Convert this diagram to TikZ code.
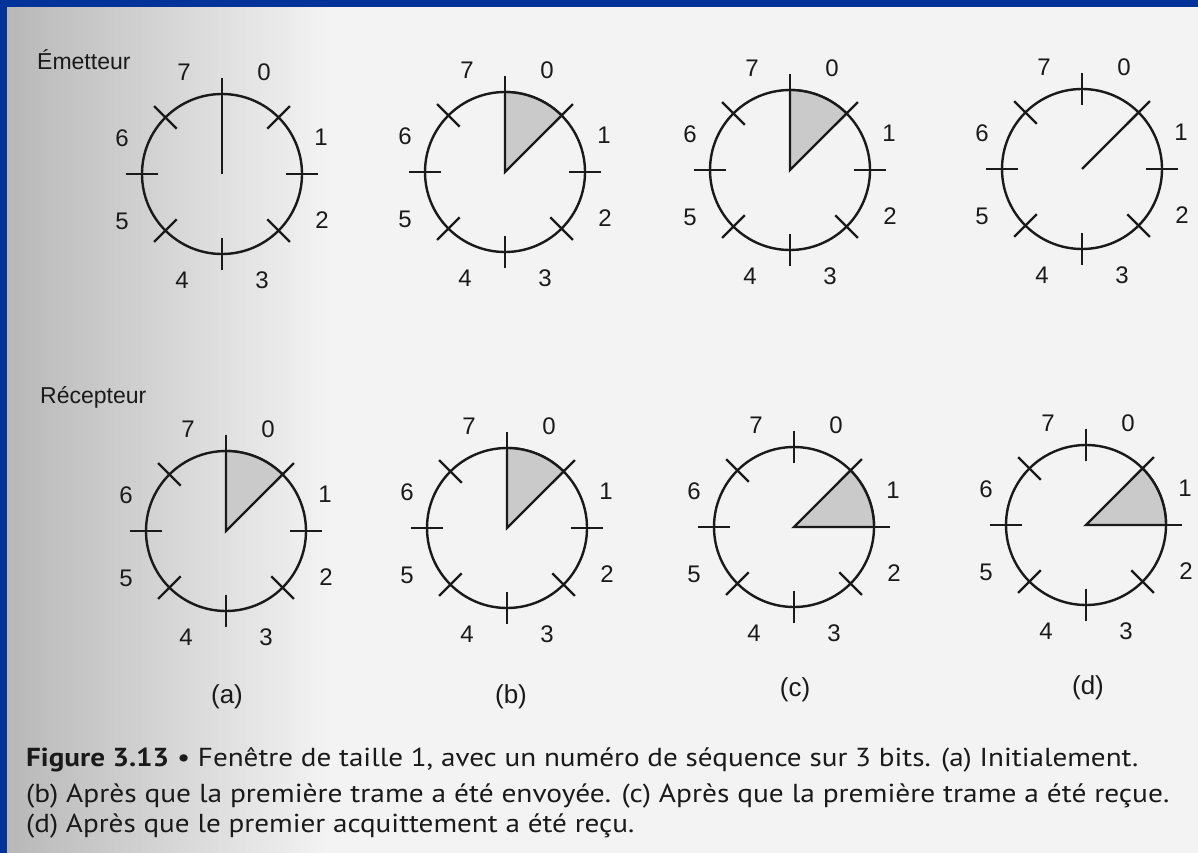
\documentclass[tikz,border=0pt]{standalone}
\usepackage{fontspec}
\setmainfont{Liberation Sans}
\newfontfamily\capfont{PT Sans}
\usepackage{graphicx}
\definecolor{scanblue}{HTML}{003399}
\definecolor{paper}{HTML}{F3F3F3}
\definecolor{shadowgray}{HTML}{B8B8B8}
\definecolor{wedgegray}{HTML}{CACACA}
\definecolor{ink}{HTML}{1A1A1A}
\tikzset{
  ring/.style={line width=2.4pt, draw=ink},
  numlab/.style={font=\fontsize{24}{24}\selectfont, inner sep=0pt, text=ink},
  sublab/.style={font=\fontsize{26}{26}\selectfont, inner sep=0pt, text=ink},
  sidelab/.style={font=\fontsize{23}{23}\selectfont, inner sep=0pt, anchor=base west, text=ink},
  caplab/.style={font=\capfont\fontsize{26}{26}\selectfont, inner sep=0pt, anchor=base west, text=ink},
}
\newcommand\clockface[2]{%
  \coordinate (#1) at #2;
  \draw[ring] (#1) circle[radius=80];
  \foreach \a in {0,45,...,315}{\draw[ring] ([shift={(\a:64)}]#1) -- ([shift={(\a:96)}]#1);}
  \foreach \k/\dx/\dy in {7/-38/-102,0/42/-102,1/99/-37,2/100/46,3/40/106,4/-40/106,5/-100/47,6/-100/-36}{%
    \node[numlab] (#1-\k) at ([shift={(\dx,\dy)}]#1) {\k};}
}
% wedge between 0 and 1 (visual 45..90 deg)
\newcommand\wedgetop[1]{%
  \begin{scope}[shift={(#1)}]
    \filldraw[ring, fill=wedgegray] (0,0) -- plot[domain=-90:-45, samples=25] (\x:80) -- cycle;
  \end{scope}}
% wedge between 1 and 2 (visual 0..45 deg)
\newcommand\wedgeright[1]{%
  \begin{scope}[shift={(#1)}]
    \filldraw[ring, fill=wedgegray] (0,0) -- plot[domain=-45:0, samples=25] (\x:80) -- cycle;
  \end{scope}}
\begin{document}
\begin{tikzpicture}[x=1pt,y=-1pt]
\useasboundingbox (0,0) rectangle (1198,853);
\fill[paper] (0,0) rectangle (1198,853);
\shade[left color=shadowgray, right color=paper] (7,0) rectangle (330,853);
\fill[scanblue] (0,0) rectangle (1198,7);
\fill[scanblue] (0,0) rectangle (7,853);

% sender row
\node[sidelab] (emet) at (37,70) {Émetteur};
\clockface{ea}{(222,174)}
\clockface{eb}{(505,172)}
\clockface{ec}{(790,170)}
\clockface{ed}{(1082,169)}
\draw[ring] (ea) -- ([shift={(0,-96)}]ea);
\wedgetop{eb}
\wedgetop{ec}
\draw[ring] (ed) -- ([shift={(-45:80)}]ed);

% receiver row
\node[sidelab] (recep) at (40,403) {Récepteur};
\clockface{ra}{(226,531)}
\clockface{rb}{(507,528)}
\clockface{rc}{(794,527)}
\clockface{rd}{(1086,525)}
\wedgetop{ra}
\wedgetop{rb}
\wedgeright{rc}
\wedgeright{rd}

\node[sublab] (la) at (227,697) {(a)};
\node[sublab] (lb) at (511,697) {(b)};
\node[sublab] (lc) at (795,690) {(c)};
\node[sublab] (ld) at (1088,688) {(d)};

% caption
\node[caplab] (cap1) at (26,766) {\resizebox{1112pt}{\height}{\textbf{Figure 3.13} • Fenêtre de taille 1, avec un numéro de séquence sur 3 bits. (a) Initialement.}};
\node[caplab] (cap2) at (26,802) {\resizebox{1143pt}{\height}{(b) Après que la première trame a été envoyée. (c) Après que la première trame a été reçue.}};
\node[caplab] (cap3) at (26,832) {\resizebox{608pt}{\height}{(d) Après que le premier acquittement a été reçu.}};
\end{tikzpicture}
\end{document}
